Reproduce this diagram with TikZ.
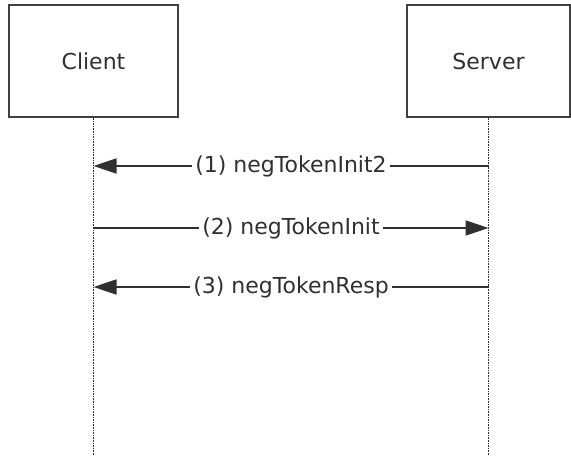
\documentclass[tikz,border=0pt]{standalone}
\usepackage{fontspec}
\setmainfont{DejaVu Sans}
\usepackage{xcolor}
\usetikzlibrary{calc,arrows.meta}
\definecolor{ink}{HTML}{303030}
\definecolor{rule}{HTML}{404040}
\tikzset{
  actor/.style={draw=rule, line width=2bp, fill=white, text=ink, minimum width=169bp, minimum height=112bp, font=\fontsize{22bp}{26bp}\selectfont},
  life/.style={draw=ink, line width=1.6bp, densely dotted},
  msg/.style={draw=ink, line width=1.6bp, -{Triangle[length=23bp,width=15bp]}},
  lab/.style={fill=white, text=ink, inner sep=3bp, font=\fontsize{22bp}{26bp}\selectfont}
}
\begin{document}
\begin{tikzpicture}[x=1bp,y=-1bp]
  \useasboundingbox (0,0) rectangle (571,456);

  \node[actor] (client) at (93.5,61) {Client};
  \node[actor, minimum width=163bp] (server) at (488.5,61) {Server};

  \coordinate (clientEnd) at (client.south |- 0,456);
  \coordinate (serverEnd) at (server.south |- 0,456);
  \draw[life] (client.south) -- (clientEnd);
  \draw[life] (server.south) -- (serverEnd);

  \coordinate (c1) at (client.south |- 0,166);
  \coordinate (s1) at (server.south |- 0,166);
  \coordinate (c2) at (client.south |- 0,228);
  \coordinate (s2) at (server.south |- 0,228);
  \coordinate (c3) at (client.south |- 0,287);
  \coordinate (s3) at (server.south |- 0,287);

  \draw[msg] (s1) -- node[lab] {(1) negTokenInit2} (c1);
  \draw[msg] (c2) -- node[lab] {(2) negTokenInit} (s2);
  \draw[msg] (s3) -- node[lab] {(3) negTokenResp} (c3);
\end{tikzpicture}
\end{document}
